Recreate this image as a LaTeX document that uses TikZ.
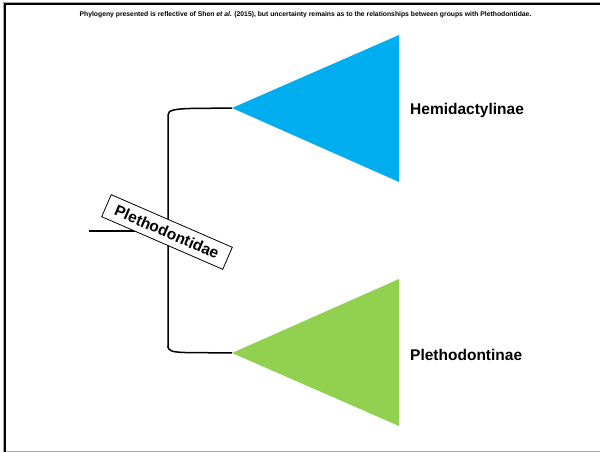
\documentclass[tikz,border=0pt]{standalone}
\usepackage{fontspec}
\setmainfont{Liberation Sans}
\definecolor{hemiblue}{HTML}{00AEEF}
\definecolor{plethgreen}{HTML}{92D050}
\begin{document}
\begin{tikzpicture}[x=1pt,y=-1pt,
  branch/.style={line width=1.5pt,black},
  clade/.style={font=\fontsize{15.5}{17}\selectfont\bfseries,anchor=west,inner sep=0pt},
  cladebox/.style={draw=black,fill=white,line width=0.8pt,font=\fontsize{15.5}{17}\selectfont\bfseries,minimum width=132pt,minimum height=24pt,inner sep=2pt,rotate=-23.5}]
\useasboundingbox (0,0) rectangle (600,452);
% frame
\draw[gray!70,line width=1pt] (3.5,2.5) -- (3.5,451.5) -- (606,451.5);
\draw[gray!70,line width=1pt] (3.5,2.5) -- (606,2.5);
\draw[black,line width=2pt] (5,452) -- (5,4) -- (606,4);
% title
\node[font=\fontsize{6.8}{8}\selectfont\bfseries,inner sep=0pt] (title) at (305.5,15) {Phylogeny presented is reflective of Shen \textit{et al.} (2015), but uncertainty remains as to the relationships between groups with Plethodontidae.};
% coordinates
\coordinate (root) at (89,231);
\coordinate (node) at (168,231);
\coordinate (tipA) at (232,108);
\coordinate (tipB) at (232,353);
% triangles
\fill[hemiblue] (tipA) -- (399,35) -- (399,182) -- cycle;
\fill[plethgreen] (tipB) -- (399,279) -- (399,426) -- cycle;
% branches
\draw[branch] (root) -- (node);
\draw[branch] (168,348) -- (168,115) .. controls (168,110) and (175,109) .. (190,108.5) -- (tipA);
\draw[branch] (168,346) .. controls (168,351) and (172,352) .. (185,352.5) -- (tipB);
% labels
\node[clade] (hemi) at (410,110) {Hemidactylinae};
\node[clade] (pleth) at (410,355) {Plethodontinae};
\node[cladebox] (family) at (167,232) {Plethodontidae};
\end{tikzpicture}
\end{document}
